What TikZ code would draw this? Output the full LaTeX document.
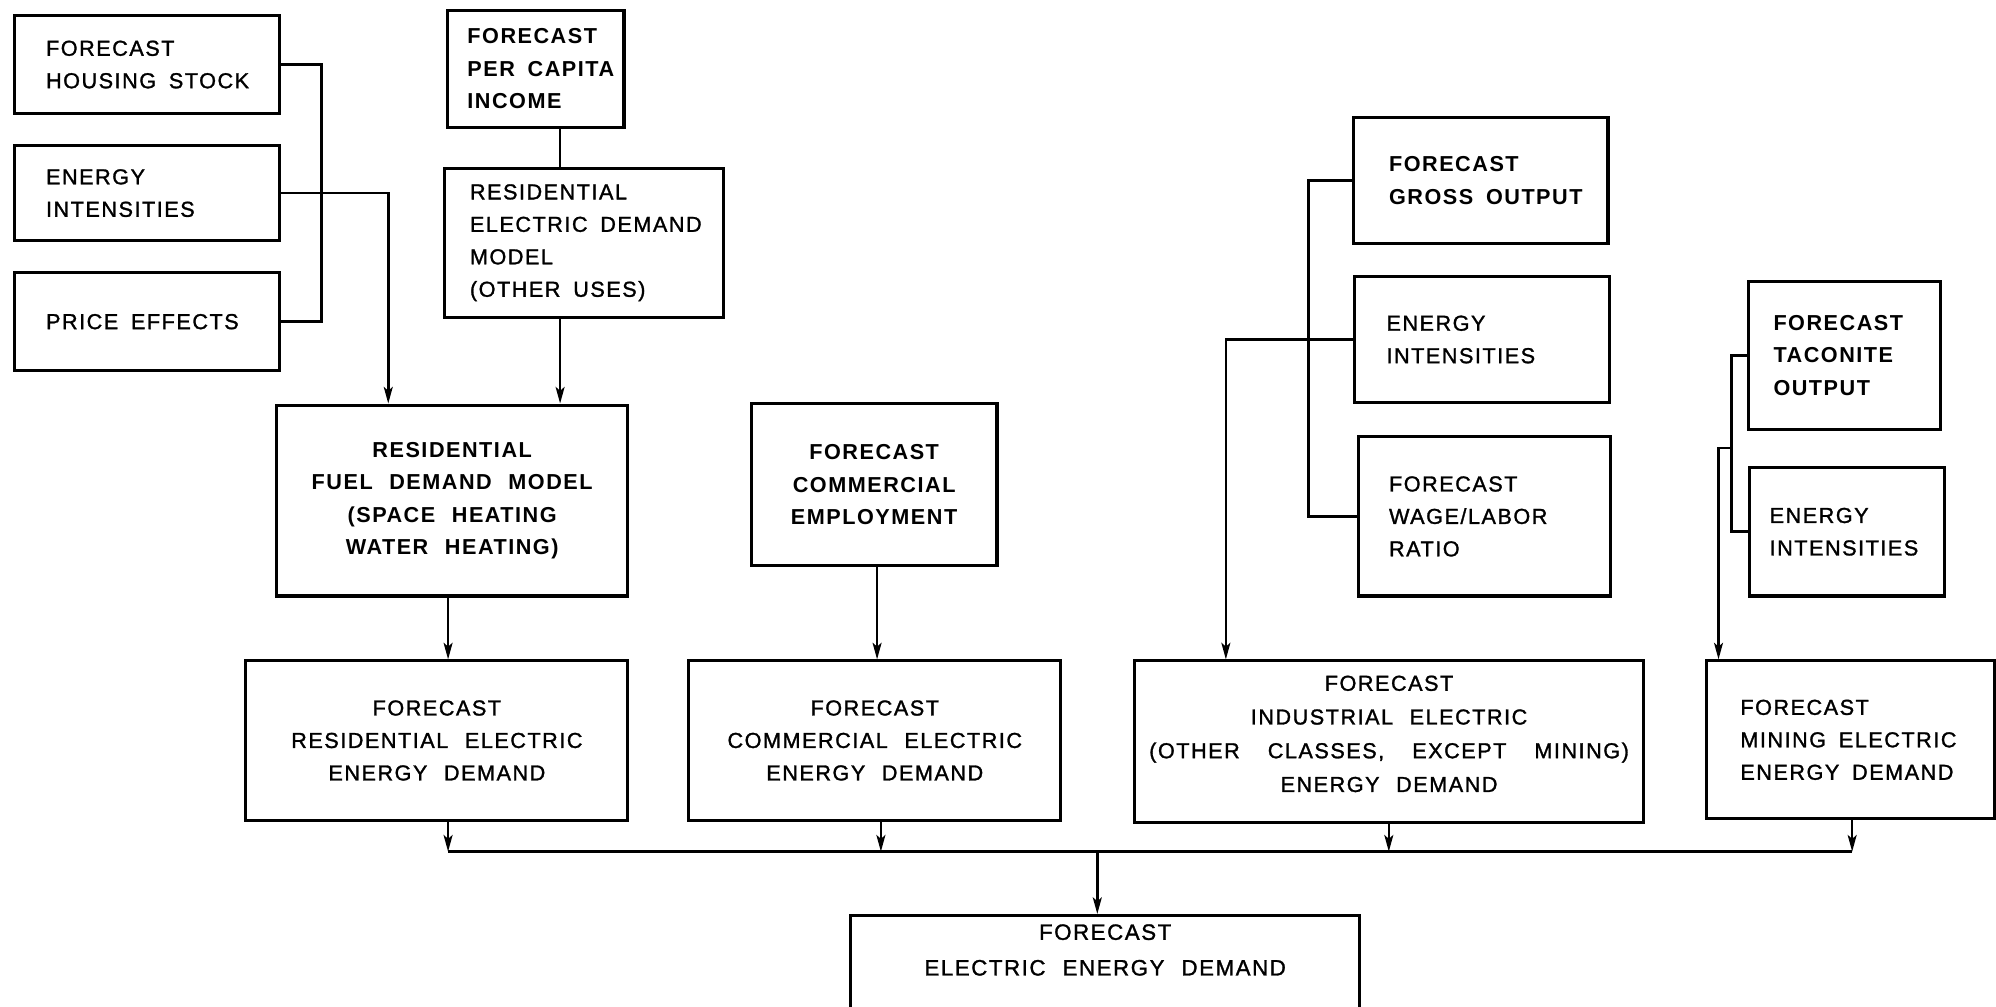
\documentclass[tikz,border=0pt]{standalone}
\usepackage{fontspec}
\setmainfont{Liberation Sans}
\newfontfamily\lab[LetterSpace=7,WordSpace=2.2,UprightFeatures={FakeBold=1.3}]{Liberation Sans}
\usetikzlibrary{arrows.meta}
\newcommand\wgap{\hspace{22pt}}
\newcommand\wg{\hspace{10pt}}
\begin{document}
\begin{tikzpicture}[x=1pt,y=-1pt,
  box/.style={draw, line width=2.4pt, anchor=north west, inner sep=0pt,
    font=\lab\fontsize{17}{25.5}\selectfont},
  lbox/.style={box, align=left, text width=#1},
  cbox/.style={box, align=center},
  heavy/.style={font=\lab\bfseries\fontsize{17}{25.5}\selectfont},
  wire/.style={line width=2pt},
  arr/.style={wire, -{Stealth[length=13pt,width=7pt,inset=3pt]}}]
\fill[white] (0,0) rectangle (1568,791);
\useasboundingbox (0,0) rectangle (1568,791);

% left input column
\node[lbox=158pt, minimum width=208pt, minimum height=77pt] (house) at (10,11) {FORECAST\\\mbox{HOUSING\wg STOCK}};
\node[lbox=158pt, minimum width=208pt, minimum height=75pt] (ei1) at (10,113) {ENERGY\\INTENSITIES};
\node[lbox=158pt, minimum width=208pt, minimum height=77pt] (price) at (10,213) {\mbox{PRICE\wg EFFECTS}};

\node[lbox=107pt, heavy, minimum width=139pt, minimum height=92pt] (percap) at (350,7) {FORECAST\\\mbox{PER\wg CAPITA}\\INCOME};
\node[lbox=179pt, minimum width=219pt, minimum height=117pt] (redm) at (348,131) {RESIDENTIAL\\\mbox{ELECTRIC\wg DEMAND}\\MODEL\\\mbox{(OTHER\wg USES)}};

\node[cbox, heavy, minimum width=276pt, minimum height=150pt] (rfdm) at (216,317) {RESIDENTIAL\\FUEL DEMAND MODEL\\(SPACE HEATING\\WATER HEATING)};
\node[cbox, heavy, minimum width=193pt, minimum height=127pt] (comemp) at (589,316) {FORECAST\\COMMERCIAL\\EMPLOYMENT};

\node[cbox, minimum width=300pt, minimum height=125pt] (fred) at (192,518) {FORECAST\\RESIDENTIAL ELECTRIC\\ENERGY DEMAND};
\node[cbox, minimum width=292pt, minimum height=125pt] (fced) at (540,518) {FORECAST\\COMMERCIAL ELECTRIC\\ENERGY DEMAND};

% industrial inputs
\node[lbox=144pt, heavy, minimum width=200pt, minimum height=99pt] (fgo) at (1062,91) {FORECAST\\\mbox{GROSS\wg OUTPUT}};
\node[lbox=150pt, minimum width=200pt, minimum height=99pt] (ei2) at (1063,216) {ENERGY\\INTENSITIES};
\node[lbox=150pt, minimum width=198pt, minimum height=125pt] (wage) at (1066,342) {FORECAST\\WAGE/LABOR\\RATIO};

% mining inputs
\node[lbox=111pt, heavy, minimum width=151pt, minimum height=116pt] (taco) at (1372,220) {FORECAST\\TACONITE\\OUTPUT};
\node[lbox=121pt, minimum width=153pt, minimum height=101pt] (ei3) at (1373,366) {ENERGY\\INTENSITIES};

\node[cbox, minimum width=400pt, minimum height=127pt, font=\lab\fontsize{17}{26.5}\selectfont] (find) at (890,518) {FORECAST\\INDUSTRIAL ELECTRIC\\\mbox{(OTHER\wgap CLASSES,\wgap EXCEPT\wgap MINING)}\\ENERGY DEMAND\\[-14pt]\phantom{X}};
\node[lbox=173pt, minimum width=227pt, minimum height=124pt] (fmed) at (1339,518) {FORECAST\\\mbox{MINING\wg ELECTRIC}\\\mbox{ENERGY\wg DEMAND}};

\node[cbox, minimum width=400pt, minimum height=82pt, font=\lab\fontsize{17.5}{28}\selectfont] (final) at (667,718) {FORECAST\\ELECTRIC ENERGY DEMAND\\\phantom{X}};

% connectors, residential
\draw[wire] (house.east) -- ++(32,0) |- (price.east);
\draw[arr] (ei1.east) -| ([xshift=89pt]rfdm.north west);
\draw[wire] ([xshift=90pt]percap.south west) -- ([xshift=92pt]redm.north west);
\draw[arr] ([xshift=92pt]redm.south west) -- ([xshift=224pt]rfdm.north west);
\draw[arr] ([xshift=136pt]rfdm.south west) -- ([xshift=160pt]fred.north west);
\draw[arr] ([xshift=100pt]comemp.south west) -- ([xshift=149pt]fced.north west);

% connectors, industrial
\draw[wire] (fgo.west) -- ++(-34,0) |- (wage.west);
\draw[arr] (ei2.west) -| ([xshift=73pt]find.north west);

% connectors, mining
\draw[wire] (taco.west) -- ++(-12,0) coordinate (tb) |- (ei3.west);
\coordinate (tj) at (tb |- 0,352);
\draw[arr] (tj) -- ++(-10,0) -| ([xshift=11pt]fmed.north west);

% collecting bus
\coordinate (busL) at (352,669);
\coordinate (busR) at (1455,669);
\draw[wire] (busL) -- (busR);
\draw[arr] ([xshift=160pt]fred.south west) -- (busL);
\draw[arr] ([xshift=152pt]fced.south west) -- (busL -| 692,0);
\draw[arr] ([xshift=201pt]find.south west) -- (busL -| 1091,0);
\draw[arr] ([xshift=116pt]fmed.south west) -- (busR);
\draw[arr] (busL -| 862,0) -- ([xshift=195pt]final.north west);
\end{tikzpicture}
\end{document}
